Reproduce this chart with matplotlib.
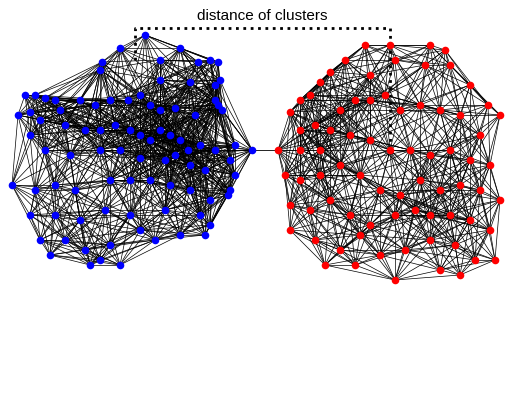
import matplotlib
matplotlib.use('Agg')
import matplotlib.pyplot as plt
import numpy as np

# node positions (pixel coordinates, y downwards)
blue_nodes = [
    (145, 35), (120, 48), (180, 48), (198, 62), (210, 60), (218, 62), (160, 60), (102, 62),
    (100, 70), (160, 80), (190, 82), (215, 85), (220, 80), (25, 95), (35, 95), (45, 98),
    (55, 100), (60, 110), (80, 100), (95, 105), (110, 100), (128, 100), (140, 95), (150, 105),
    (160, 110), (175, 108), (195, 115), (215, 100), (218, 105), (222, 110), (18, 115), (30, 112),
    (40, 120), (65, 125), (85, 130), (100, 130), (115, 125), (130, 130), (140, 135), (150, 140),
    (160, 130), (170, 135), (180, 140), (188, 150), (200, 145), (215, 150), (235, 145), (252, 150),
    (230, 160), (30, 135), (45, 150), (70, 155), (100, 150), (120, 150), (140, 158), (165, 160),
    (175, 155), (190, 165), (205, 170), (235, 175), (230, 190), (12, 185), (35, 190), (55, 185),
    (75, 190), (110, 180), (130, 180), (150, 180), (170, 185), (190, 190), (210, 200), (228, 195),
    (30, 215), (55, 215), (80, 220), (105, 210), (130, 215), (165, 210), (200, 215), (40, 240),
    (65, 240), (85, 250), (100, 260), (90, 265), (110, 245), (140, 230), (155, 240), (180, 235),
    (205, 235), (210, 225), (50, 255), (120, 265),
]
red_nodes = [
    (278, 150), (290, 112), (300, 100), (310, 95), (320, 82), (330, 72), (345, 60), (365, 45),
    (390, 45), (430, 45), (445, 50), (425, 65), (450, 65), (470, 85), (488, 105), (500, 115),
    (340, 110), (355, 100), (370, 100), (385, 95), (400, 110), (420, 105), (440, 110), (460, 115),
    (480, 135), (300, 130), (315, 125), (330, 130), (350, 135), (370, 140), (390, 150), (410, 150),
    (430, 155), (450, 150), (470, 160), (490, 165), (285, 175), (300, 180), (320, 175), (340, 165),
    (360, 175), (380, 190), (400, 195), (420, 180), (440, 190), (460, 185), (480, 190), (500, 200),
    (290, 205), (310, 210), (330, 200), (350, 215), (370, 225), (395, 215), (415, 210), (430, 215),
    (450, 215), (470, 220), (490, 230), (290, 230), (315, 240), (340, 250), (360, 235), (380, 255),
    (405, 250), (430, 240), (455, 245), (475, 260), (495, 260), (325, 265), (355, 265), (395, 280),
    (440, 270), (460, 275), (370, 75), (395, 60), (300, 150), (320, 150),
]
bridge = [((252, 150), (278, 150))]
bracket_x = [135, 135, 390, 390]
bracket_y = [60, 28, 28, 150]

fig = plt.figure(figsize=(5.14, 4.0), dpi=100)
ax = fig.add_axes([0, 0, 1, 1])
ax.set_xlim(0, 514)
ax.set_ylim(400, 0)
ax.axis('off')


def draw_cluster(nodes, color, radius=78):
    pts = np.array(nodes, dtype=float)
    for i in range(len(pts)):
        for j in range(i + 1, len(pts)):
            if np.hypot(*(pts[i] - pts[j])) < radius:
                ax.plot([pts[i, 0], pts[j, 0]], [pts[i, 1], pts[j, 1]],
                        color='black', lw=0.5, zorder=1)
    ax.scatter(pts[:, 0], pts[:, 1], s=30, color=color, zorder=3, linewidths=0)


draw_cluster(blue_nodes, '#0000ff')
draw_cluster(red_nodes, '#ff0000')
for a, b in bridge:
    ax.plot([a[0], b[0]], [a[1], b[1]], color='black', lw=0.6, zorder=1)

ax.plot(bracket_x, bracket_y, color='black', lw=2, ls=':', zorder=2)
ax.text(262, 16, 'distance of clusters', ha='center', va='center',
        fontsize=11, family='Liberation Sans')

fig.savefig('out.png', dpi=100)
